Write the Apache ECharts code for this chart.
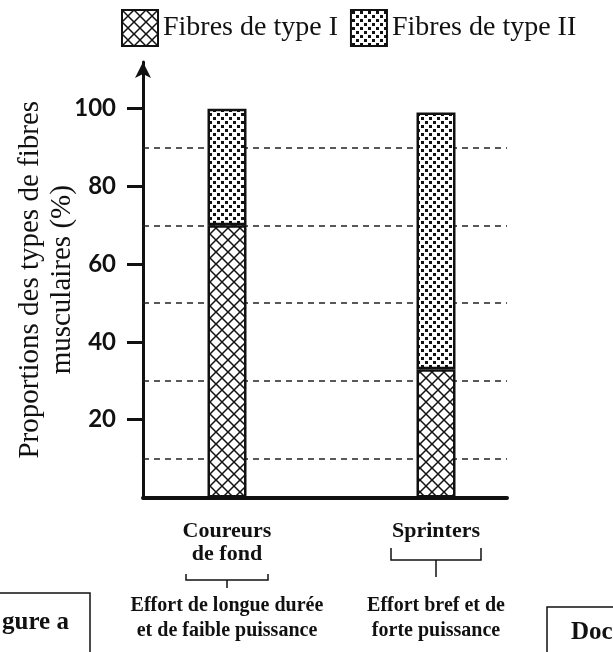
<!DOCTYPE html>
<html>
<head>
<meta charset="utf-8">
<style>
    html, body { margin: 0; padding: 0; background: #fff; }
    #chart { width: 613px; height: 652px; }
</style>
<script src="https://cdn.jsdelivr.net/npm/echarts@6/dist/echarts.min.js"></script>
</head>
<body>
<div id="chart"></div>
<script>
const categories = ['Coureurs\nde fond', 'Sprinters'];
const effortLabels = ['Effort de longue durée\net de faible puissance', 'Effort bref et de\nforte puissance'];
const seriesNames = ['Fibres de type I', 'Fibres de type II'];
const typeIValues = [70, 33];
const typeIIValues = [30, 66];
const tickValues = [20, 40, 60, 80, 100];
const dashedLevels = [10, 30, 50, 70, 90];

const SERIF = '"Liberation Serif", "DejaVu Serif", serif';
const INK = '#111';

function makeHatchPattern() {
    const size = 12;
    const canvas = document.createElement('canvas');
    canvas.width = size;
    canvas.height = size;
    const ctx = canvas.getContext('2d');
    ctx.fillStyle = '#fff';
    ctx.fillRect(0, 0, size, size);
    ctx.strokeStyle = INK;
    ctx.lineWidth = 1.5;
    ctx.beginPath();
    ctx.moveTo(-1, size + 1);
    ctx.lineTo(size + 1, -1);
    ctx.moveTo(-1, -1);
    ctx.lineTo(size + 1, size + 1);
    ctx.stroke();
    return { image: canvas, repeat: 'repeat' };
}

function makeDotPattern() {
    const size = 8;
    const canvas = document.createElement('canvas');
    canvas.width = size;
    canvas.height = size;
    const ctx = canvas.getContext('2d');
    ctx.fillStyle = '#fff';
    ctx.fillRect(0, 0, size, size);
    ctx.fillStyle = INK;
    ctx.fillRect(1, 1, 3, 3);
    ctx.fillRect(5, 5, 3, 3);
    return { image: canvas, repeat: 'repeat' };
}

const chart = echarts.init(document.getElementById('chart'), null, { renderer: 'canvas' });

// grid 0 = axis frame with dashed guides, grid 1 = bars
const frameGrid = { left: 143, right: 106, top: 62, bottom: 154.5, outerBoundsMode: 'none' };
const barGrid = { left: 122.5, right: 72.5, top: 62, bottom: 154.5, outerBoundsMode: 'none' };

const barStyle = (pattern) => ({
    color: pattern,
    borderColor: INK,
    borderWidth: 2.5,
});

chart.setOption({
    animation: false,
    backgroundColor: '#fff',
    legend: {
        data: seriesNames,
        left: 116,
        top: 4,
        icon: 'rect',
        itemWidth: 36,
        itemHeight: 36,
        itemGap: 12,
        textStyle: { fontFamily: SERIF, fontSize: 28, color: INK },
    },
    grid: [frameGrid, barGrid],
    xAxis: [
        {
            gridIndex: 0,
            type: 'value',
            min: 0,
            max: 1,
            axisLine: { show: true, lineStyle: { color: INK, width: 4 } },
            axisTick: { show: false },
            axisLabel: { show: false },
            splitLine: { show: false },
        },
        {
            gridIndex: 1,
            type: 'category',
            data: categories,
            axisLine: { show: false },
            axisTick: { show: false },
            axisLabel: {
                interval: 0,
                margin: 22,
                fontFamily: SERIF,
                fontWeight: 'bold',
                fontSize: 22,
                lineHeight: 23,
                color: INK,
            },
        },
        {
            gridIndex: 1,
            type: 'category',
            data: effortLabels,
            position: 'bottom',
            axisLine: { show: false },
            axisTick: { show: false },
            axisLabel: {
                interval: 0,
                hideOverlap: false,
                margin: 96,
                fontFamily: SERIF,
                fontWeight: 'bold',
                fontSize: 20,
                lineHeight: 25,
                color: INK,
            },
        },
    ],
    yAxis: [
        {
            gridIndex: 0,
            type: 'value',
            min: 0,
            max: 112,
            name: 'Proportions des types de fibres\nmusculaires (%)',
            nameLocation: 'middle',
            nameRotate: 90,
            nameGap: 65,
            nameMoveOverlap: false,
            nameTextStyle: { fontFamily: SERIF, fontSize: 29, lineHeight: 32, color: INK },
            axisLine: {
                show: true,
                symbol: ['none', 'arrow'],
                symbolSize: [12, 16],
                lineStyle: { color: INK, width: 3 },
            },
            axisTick: {
                show: true,
                customValues: tickValues,
                length: 16,
                lineStyle: { color: INK, width: 3 },
            },
            axisLabel: {
                customValues: tickValues,
                margin: 27,
                fontFamily: 'Lato, "Open Sans", sans-serif',
                fontWeight: 'bold',
                fontSize: 24,
                color: INK,
            },
            splitLine: { show: false },
        },
        {
            gridIndex: 1,
            type: 'value',
            min: 0,
            max: 112,
            show: false,
        },
    ],
    series: [
        {
            type: 'line',
            xAxisIndex: 0,
            yAxisIndex: 0,
            data: [],
            z: 1,
            silent: true,
            markLine: {
                z: 1,
                symbol: 'none',
                silent: true,
                label: { show: false },
                lineStyle: { color: '#222', width: 1.5, type: [6, 5] },
                data: dashedLevels.map((value) => ({ yAxis: value })),
            },
        },
        {
            name: seriesNames[0],
            type: 'bar',
            xAxisIndex: 1,
            yAxisIndex: 1,
            stack: 'fibres',
            barWidth: 39,
            z: 3,
            itemStyle: barStyle(makeHatchPattern()),
            data: typeIValues,
        },
        {
            name: seriesNames[1],
            type: 'bar',
            xAxisIndex: 1,
            yAxisIndex: 1,
            stack: 'fibres',
            barWidth: 39,
            z: 3,
            itemStyle: barStyle(makeDotPattern()),
            data: typeIIValues,
        },
    ],
});

// braces under the group labels, plus the page fragments around the figure
function bracePoints(cx, half, yEnd, yMid, yStem) {
    return [
        [[cx - half, yEnd], [cx - half, yMid], [cx + half, yMid], [cx + half, yEnd]],
        [[cx, yMid], [cx, yStem]],
    ];
}

const braceShapes = [
    { half: 41, yEnd: 574, yMid: 580, yStem: 588 },
    { half: 45, yEnd: 548, yMid: 560, yStem: 577 },
];

const graphics = [];
braceShapes.forEach((brace, index) => {
    const cx = chart.convertToPixel({ xAxisIndex: 1 }, index);
    bracePoints(cx, brace.half, brace.yEnd, brace.yMid, brace.yStem).forEach((points) => {
        graphics.push({
            type: 'polyline',
            shape: { points },
            style: { stroke: INK, lineWidth: 1.5, fill: null },
        });
    });
});

graphics.push(
    {
        type: 'rect',
        shape: { x: -5, y: 593, width: 95, height: 70 },
        style: { stroke: INK, lineWidth: 1.5, fill: null },
    },
    {
        type: 'text',
        left: 2,
        top: 610,
        style: { text: 'gure a', font: 'bold 25px ' + SERIF, fill: INK },
    },
    {
        type: 'rect',
        shape: { x: 547, y: 607, width: 80, height: 60 },
        style: { stroke: INK, lineWidth: 1.5, fill: null },
    },
    {
        type: 'text',
        left: 571,
        top: 620,
        style: { text: 'Doc', font: 'bold 25px ' + SERIF, fill: INK },
    }
);

chart.setOption({ graphic: graphics });
</script>
</body>
</html>
